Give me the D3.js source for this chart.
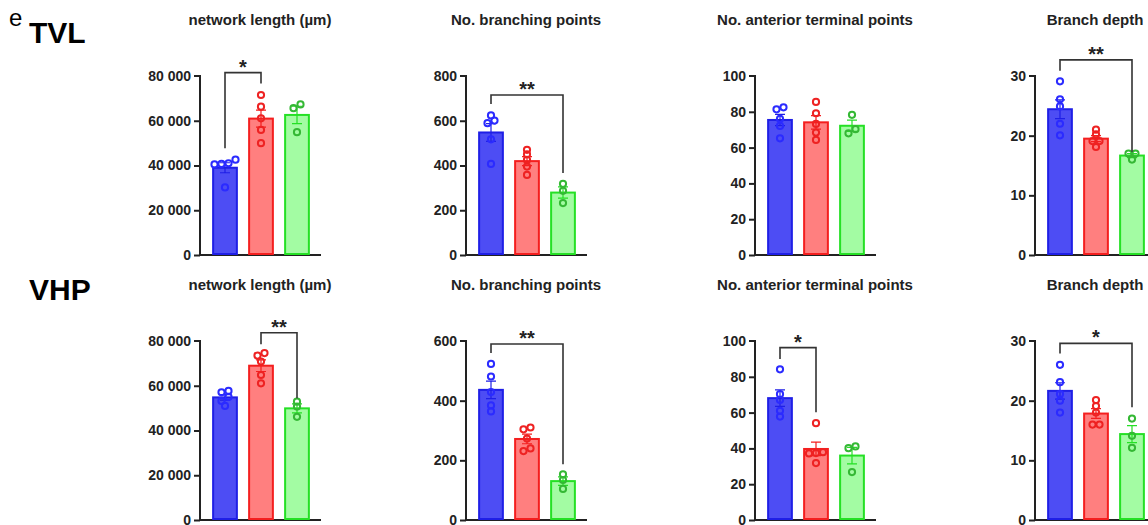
<!DOCTYPE html>
<html>
<head>
<meta charset="utf-8">
<script src="https://cdn.jsdelivr.net/npm/d3@7"></script>
<style>
  body { margin: 0; background: #fff; }
  svg { display: block; font-family: "Liberation Sans", Arial, sans-serif; }
</style>
</head>
<body>
<div id="chart"></div>
<script>
// values (means and SEM are computed from the points)
var rowNames = ["TVL", "VHP"];
var panelTitles = ["network length (µm)", "No. branching points", "No. anterior terminal points", "Branch depth"];
var groups = ["A", "B", "C"];

var yMaxTVL = [80000, 800, 100, 30];
var yMaxVHP = [80000, 600, 100, 30];
var tickStepTVL = [20000, 200, 20, 10];
var tickStepVHP = [20000, 200, 20, 10];

// points per panel, per group
var tvlNetwork = [[42600, 40500, 40700, 41000, 30200], [71500, 66300, 61100, 55900, 50000], [67300, 65600, 54900]];
var tvlBranching = [[624, 589, 601, 517, 407], [470, 450, 425, 395, 358], [318, 287, 232]];
var tvlTerminal = [[82.5, 81.4, 76, 72.1, 65.2], [85.5, 79.2, 73.2, 68.4, 64.3], [78.3, 70.3, 68]];
var tvlDepth = [[29.1, 26.1, 24.9, 22, 20.05], [21, 20.2, 19.1, 19.1, 18.1], [17, 17, 16]];

var vhpNetwork = [[57100, 57700, 55000, 53200, 51000], [74600, 73500, 70800, 64800, 61100], [52900, 50700, 46100]];
var vhpBranching = [[523, 481, 429, 384, 364], [310, 304, 273, 240, 231], [153, 134, 104]];
var vhpTerminal = [[84.2, 70.3, 67.1, 61, 57.8], [54.1, 37.9, 37.4, 37.2, 31.8], [41.1, 40.1, 26.8]];
var vhpDepth = [[26, 23.1, 21.1, 20, 18], [20.1, 19.1, 18, 16, 16], [17, 14.1, 12.1]];

// brackets: [row, panel, from group, to group, label, top value, left leg end, right leg end]
var brackets = [
  [0, 0, 0, 1, "*", 81500, 47700, 76700],
  [0, 1, 0, 2, "**", 715, 675, 366],
  [0, 3, 0, 2, "**", 32.7, 30.9, 17.3],
  [1, 0, 1, 2, "**", 83700, 78500, 54400],
  [1, 1, 0, 2, "**", 590, 560, 187],
  [1, 2, 0, 1, "*", 96.3, 90, 60.2],
  [1, 3, 0, 2, "*", 29.6, 27.9, 18.9]
];

var barFill = ["#4d4df4", "#ff7f7f", "#a3fca3"];
var barStroke = ["#1f1fe6", "#f41f1f", "#25e025"];
var dotColor = ["#2b2bff", "#ee2222", "#34b834"];

var rowData = [
  [tvlNetwork, tvlBranching, tvlTerminal, tvlDepth],
  [vhpNetwork, vhpBranching, vhpTerminal, vhpDepth]
];
var rowMax = [yMaxTVL, yMaxVHP];
var rowStep = [tickStepTVL, tickStepVHP];

var width = 1148, height = 525;
var panelX = [200, 466, 755, 1035];
var plotW = 121;
var rowTop = [76, 341], rowBottom = [255, 520];
var titleY = [25, 290];
var dotR = 3.1;

var fmt = d3.formatLocale({ decimal: ".", thousands: " ", grouping: [3], currency: ["", ""] }).format(",");

var svg = d3.select("#chart").append("svg")
  .attr("width", width)
  .attr("height", height);

svg.append("text").attr("x", 9).attr("y", 26)
  .attr("font-size", 24).text("e");
svg.append("text").attr("x", 29).attr("y", 43)
  .attr("font-size", 30).attr("font-weight", "bold").text(rowNames[0]);
svg.append("text").attr("x", 29).attr("y", 300)
  .attr("font-size", 30).attr("font-weight", "bold").text(rowNames[1]);

function mean(a) { return d3.mean(a); }
function sem(a) { return d3.deviation(a) / Math.sqrt(a.length); }

// points at nearly the same height go side by side, centred on the bar
function swarm(vals, y) {
  var pts = vals.map(function (v) { return { v: v, py: y(v), dx: 0 }; })
    .sort(function (a, b) { return b.py - a.py; });
  var rows = [], cur = null;
  pts.forEach(function (pt) {
    if (cur && Math.abs(cur[cur.length - 1].py - pt.py) < 4.4) cur.push(pt);
    else { cur = [pt]; rows.push(cur); }
  });
  rows.forEach(function (row) {
    row.forEach(function (pt, i) { pt.dx = (i - (row.length - 1) / 2) * 7; });
  });
  return pts;
}

rowData.forEach(function (panels, r) {
  panels.forEach(function (sets, p) {
    var x0 = panelX[p];
    var y = d3.scaleLinear().domain([0, rowMax[r][p]]).range([rowBottom[r], rowTop[r]]);
    var x = d3.scaleBand().domain(groups).range([x0 + 7, x0 + 115]);
    var bw = x.bandwidth() * 0.66;
    var g = svg.append("g");

    g.append("text")
      .attr("x", x0 + 60).attr("y", titleY[r])
      .attr("text-anchor", "middle")
      .attr("font-size", 15).attr("font-weight", "bold")
      .attr("fill", "#222")
      .text(panelTitles[p]);

    var ticks = d3.range(0, rowMax[r][p] + 1, rowStep[r][p]);
    var axis = d3.axisLeft(y).tickValues(ticks).tickSize(6).tickPadding(3)
      .tickFormat(function (d) { return fmt(d); });
    var ax = g.append("g").attr("transform", "translate(" + x0 + ",0)").call(axis);
    ax.select(".domain").attr("stroke", "#222").attr("stroke-width", 2)
      .attr("d", "M-6," + rowTop[r] + "H0V" + rowBottom[r]);
    ax.selectAll(".tick line").attr("stroke", "#222").attr("stroke-width", 2);
    ax.selectAll(".tick text").attr("font-size", 14).attr("font-weight", "bold")
      .attr("fill", "#222").attr("font-family", "Liberation Sans, Arial, sans-serif");
    ax.selectAll(".tick").filter(function (d) { return d === rowMax[r][p]; }).select("line").remove();

    g.append("line")
      .attr("x1", x0 - 1).attr("x2", x0 + plotW)
      .attr("y1", rowBottom[r]).attr("y2", rowBottom[r])
      .attr("stroke", "#222").attr("stroke-width", 2);

    sets.forEach(function (vals, i) {
      var cx = x(groups[i]) + x.bandwidth() / 2;
      var m = mean(vals), s = sem(vals);
      g.append("rect")
        .attr("x", cx - bw / 2).attr("y", y(m))
        .attr("width", bw).attr("height", rowBottom[r] - 1 - y(m))
        .attr("fill", barFill[i]).attr("stroke", barStroke[i]).attr("stroke-width", 2);
      // error bar, mean +/- SEM
      g.append("path")
        .attr("d", "M" + cx + "," + y(m - s) + "V" + y(m + s) +
          "M" + (cx - 5) + "," + y(m + s) + "H" + (cx + 5) +
          "M" + (cx - 5) + "," + y(m - s) + "H" + (cx + 5))
        .attr("stroke", barStroke[i]).attr("stroke-width", 1.2).attr("fill", "none");
      g.selectAll(null).data(swarm(vals, y)).enter().append("circle")
        .attr("cx", function (d) { return cx + d.dx; })
        .attr("cy", function (d) { return d.py; })
        .attr("r", dotR)
        .attr("fill", "none").attr("stroke", dotColor[i]).attr("stroke-width", 2);
    });

    brackets.filter(function (b) { return b[0] === r && b[1] === p; }).forEach(function (b) {
      var xa = x(groups[b[2]]) + x.bandwidth() / 2;
      var xb = x(groups[b[3]]) + x.bandwidth() / 2;
      g.append("path")
        .attr("d", "M" + xa + "," + y(b[6]) + "V" + y(b[5]) + "H" + xb + "V" + y(b[7]))
        .attr("fill", "none").attr("stroke", "#333").attr("stroke-width", 1.6);
      g.append("text")
        .attr("x", (xa + xb) / 2).attr("y", y(b[5]) + 1)
        .attr("text-anchor", "middle")
        .attr("font-size", 20).attr("font-weight", "bold").attr("fill", "#222")
        .text(b[4]);
    });
  });
});
</script>
</body>
</html>
